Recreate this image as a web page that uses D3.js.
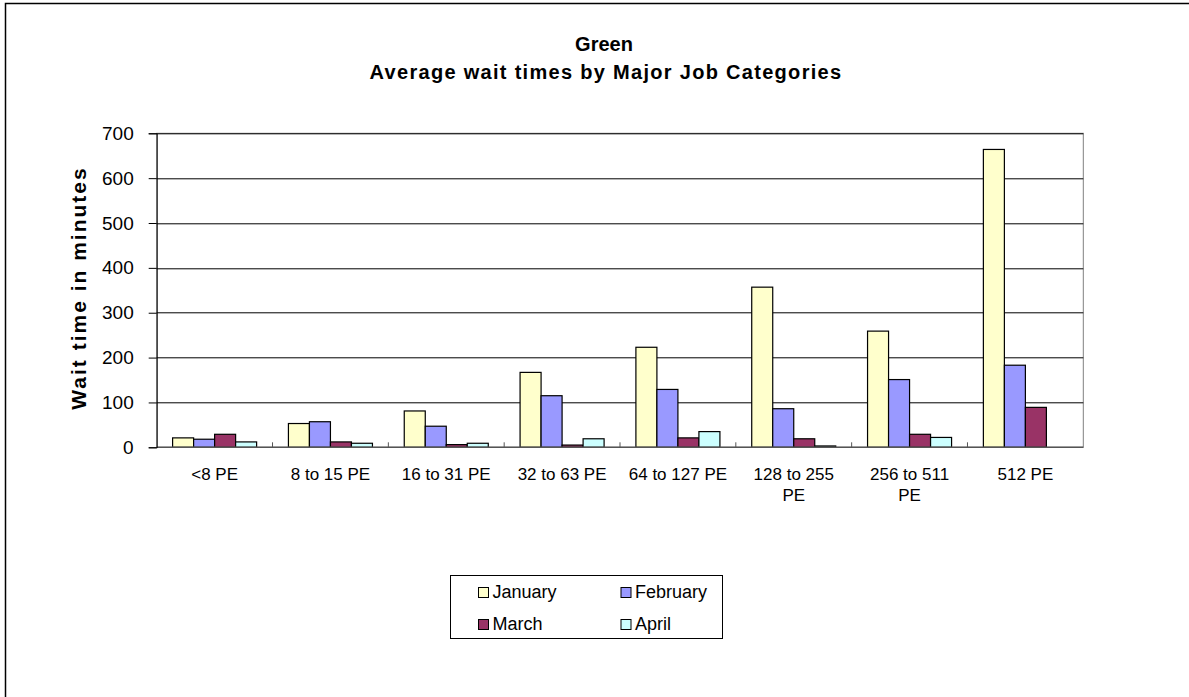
<!DOCTYPE html>
<html>
<head>
<meta charset="utf-8">
<script src="https://cdn.jsdelivr.net/npm/d3@7"></script>
<style>
  body { margin: 0; background: #fff; }
  svg { display: block; font-family: "Liberation Sans", Arial, sans-serif; }
</style>
</head>
<body>
<svg width="1189" height="697"></svg>
<script>
// chart data
const categories = ["<8 PE", "8 to 15 PE", "16 to 31 PE", "32 to 63 PE", "64 to 127 PE", "128 to 255 PE", "256 to 511 PE", "512 PE"];
const months = ["January", "February", "March", "April"];
const january = [21, 53, 81, 167, 223, 357, 259, 664];
const february = [18, 57, 47, 115, 129, 86, 151, 183];
const march = [29, 12, 6, 5, 21, 19, 29, 89];
const april = [12, 9, 9, 19, 35, 3, 22, 0];
const yTicks = [0, 100, 200, 300, 400, 500, 600, 700];

const series = [january, february, march, april];
const colors = ["#ffffcc", "#9999ff", "#993366", "#ccffff"];

// plot area
const margin = { top: 133.3, left: 156.7 };
const width = 1083.3 - margin.left;
const height = 447.3 - margin.top;

const svg = d3.select("svg");

// outer frame
svg.append("rect")
  .attr("x", 5.5).attr("y", 3.5)
  .attr("width", 1200).attr("height", 720)
  .attr("fill", "none")
  .attr("stroke", "#000")
  .attr("stroke-width", 1.5);

// titles
svg.append("text")
  .attr("x", 604).attr("y", 51)
  .attr("text-anchor", "middle")
  .attr("font-size", 20).attr("font-weight", "bold")
  .text("Green");
svg.append("text")
  .attr("x", 606).attr("y", 79)
  .attr("text-anchor", "middle")
  .attr("font-size", 20).attr("font-weight", "bold")
  .attr("letter-spacing", 1.3)
  .text("Average wait times by Major Job Categories");

const g = svg.append("g")
  .attr("transform", "translate(" + margin.left + "," + margin.top + ")");

// scales
const x0 = d3.scaleBand()
  .domain(categories)
  .range([0, width]);
const x1 = d3.scaleBand()
  .domain(months)
  .range([0, x0.bandwidth()])
  .paddingOuter(0.757);
const y = d3.scaleLinear()
  .domain([0, 700])
  .range([height, 0]);

// plot border
g.append("rect")
  .attr("width", width).attr("height", height)
  .attr("fill", "none")
  .attr("stroke", "#808080");

// grid
g.append("g")
  .selectAll("line")
  .data(yTicks.slice(1))
  .join("line")
  .attr("x1", 0).attr("x2", width)
  .attr("y1", d => Math.round(y(d)) + 0.5)
  .attr("y2", d => Math.round(y(d)) + 0.5)
  .attr("stroke", "#000");

// bars
const groups = g.append("g")
  .selectAll("g")
  .data(categories)
  .join("g")
  .attr("transform", d => "translate(" + x0(d) + ",0)");

groups.selectAll("rect")
  .data((d, i) => months.map((m, j) => ({ month: m, value: series[j][i], color: colors[j] })))
  .join("rect")
  .attr("x", d => x1(d.month))
  .attr("y", d => y(d.value))
  .attr("width", x1.bandwidth())
  .attr("height", d => height - y(d.value))
  .attr("fill", d => d.color)
  .attr("stroke", "#000")
  .attr("stroke-width", 1.2);

// x axis
const xAxis = g.append("g")
  .attr("transform", "translate(0," + height + ")");
xAxis.append("line")
  .attr("x1", 0).attr("x2", width)
  .attr("stroke", "#555").attr("stroke-width", 1.5);
xAxis.selectAll(".tick")
  .data(categories.slice(1))
  .join("line")
  .attr("x1", d => x0(d)).attr("x2", d => x0(d))
  .attr("y1", 0).attr("y2", -5)
  .attr("stroke", "#555");

// x labels, wrapped like the original
const wrapped = {
  "128 to 255 PE": ["128 to 255", "PE"],
  "256 to 511 PE": ["256 to 511", "PE"]
};
xAxis.selectAll("text")
  .data(categories)
  .join("text")
  .attr("text-anchor", "middle")
  .attr("font-size", 17)
  .attr("transform", d => "translate(" + (x0(d) + x0.bandwidth() / 2) + ",33)")
  .each(function(d) {
    const lines = wrapped[d] || [d];
    d3.select(this).selectAll("tspan")
      .data(lines)
      .join("tspan")
      .attr("x", 0)
      .attr("dy", (l, i) => i ? 21 : 0)
      .text(l => l);
  });

// y axis
const yAxis = d3.axisLeft(y)
  .tickValues(yTicks)
  .tickSize(8)
  .tickPadding(15);
g.append("g")
  .call(yAxis)
  .call(a => a.selectAll("text")
    .attr("font-size", 19)
    .attr("fill", "#000")
    .attr("font-family", "Liberation Sans, Arial, sans-serif"))
  .call(a => a.selectAll("line,path").attr("stroke", "#000"));

// y axis title
svg.append("text")
  .attr("transform", "translate(86,288) rotate(-90)")
  .attr("text-anchor", "middle")
  .attr("font-size", 21).attr("font-weight", "bold")
  .attr("letter-spacing", 2)
  .text("Wait time in minutes");

// legend
const legend = svg.append("g");
legend.append("rect")
  .attr("x", 450.5).attr("y", 575.5)
  .attr("width", 272).attr("height", 63)
  .attr("fill", "#fff")
  .attr("stroke", "#000");
const item = legend.selectAll("g")
  .data(months)
  .join("g")
  .attr("transform", (d, i) => "translate(" + (478.5 + (i % 2) * 142.5) + "," + (587.5 + Math.floor(i / 2) * 32) + ")");
item.append("rect")
  .attr("width", 10).attr("height", 10)
  .attr("fill", (d, i) => colors[i])
  .attr("stroke", "#000");
item.append("text")
  .attr("x", 14).attr("y", 10)
  .attr("font-size", 18)
  .text(d => d);
</script>
</body>
</html>
